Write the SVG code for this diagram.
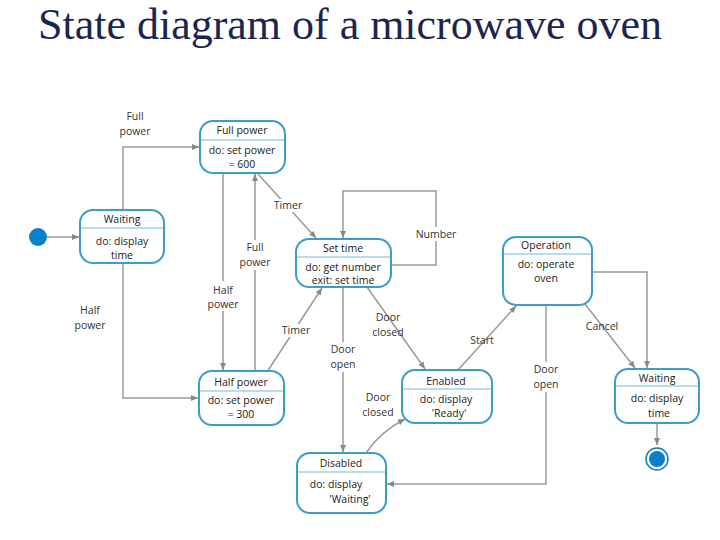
<svg xmlns="http://www.w3.org/2000/svg" width="720" height="540" viewBox="0 0 720 540">
<style>
.title{font-family:"Liberation Serif","Times New Roman",serif;font-size:43.5px;fill:#1b2550}
.box{fill:#fff;stroke:#3b9dc8;stroke-width:2}
.div{stroke:#9fd0e6;stroke-width:1.5}
.nt{font-family:"Open Sans","Noto Sans",sans-serif;font-size:10.5px;fill:#222;text-anchor:middle}
.lb{font-family:"Open Sans","Noto Sans",sans-serif;font-size:10.5px;fill:#333;text-anchor:middle}
.ln{fill:none;stroke:#9a9a9a;stroke-width:1.5}
.mask{fill:#fff}
</style>
<defs>
<marker id="ah" markerWidth="8" markerHeight="8" refX="7" refY="4" orient="auto" markerUnits="userSpaceOnUse">
<path d="M0,1 L7,4 L0,7 z" fill="#888"/>
</marker>
</defs>
<text class="title" x="38" y="39" textLength="624" lengthAdjust="spacingAndGlyphs">State diagram of a microwave oven</text>

<g id="connectors">
<line class="ln" x1="47" y1="237" x2="79" y2="237" marker-end="url(#ah)"/>
<polyline class="ln" points="123,210 123,147 199,147" marker-end="url(#ah)"/>
<polyline class="ln" points="123,263 123,398 198,398" marker-end="url(#ah)"/>
<line class="ln" x1="223" y1="174" x2="223" y2="370" marker-end="url(#ah)"/>
<line class="ln" x1="255" y1="371" x2="255" y2="174" marker-end="url(#ah)"/>
<line class="ln" x1="258" y1="174" x2="316" y2="238" marker-end="url(#ah)"/>
<line class="ln" x1="267" y1="372" x2="322" y2="288" marker-end="url(#ah)"/>
<polyline class="ln" points="391,265 436,265 436,191 343,191 343,238" marker-end="url(#ah)"/>
<line class="ln" x1="343" y1="287" x2="343" y2="452" marker-end="url(#ah)"/>
<line class="ln" x1="367" y1="287" x2="425" y2="369" marker-end="url(#ah)"/>
<path class="ln" d="M366,453 Q380,432 405,419" marker-end="url(#ah)"/>
<line class="ln" x1="458" y1="370" x2="516" y2="306" marker-end="url(#ah)"/>
<polyline class="ln" points="546,306 546,484 387,484" marker-end="url(#ah)"/>
<line class="ln" x1="585" y1="304" x2="635" y2="368" marker-end="url(#ah)"/>
<polyline class="ln" points="593,272 647,272 647,368" marker-end="url(#ah)"/>
<line class="ln" x1="657" y1="424" x2="657" y2="445" marker-end="url(#ah)"/>

<rect class="mask" x="206" y="281" width="34" height="30"/>
<text class="lb" x="223" y="294">Half</text><text class="lb" x="223" y="308">power</text>
<rect class="mask" x="238" y="240" width="34" height="30"/>
<text class="lb" x="255" y="251">Full</text><text class="lb" x="255" y="266">power</text>
<text class="lb" x="135" y="120">Full</text><text class="lb" x="135" y="135">power</text>
<text class="lb" x="90" y="314">Half</text><text class="lb" x="90" y="329">power</text>
<rect class="mask" x="272" y="199" width="32" height="13"/>
<text class="lb" x="288" y="209">Timer</text>
<rect class="mask" x="280" y="324" width="32" height="13"/>
<text class="lb" x="296" y="334">Timer</text>
<rect class="mask" x="414" y="227" width="44" height="14"/>
<text class="lb" x="436" y="238">Number</text>
<rect class="mask" x="327" y="342" width="32" height="30"/>
<text class="lb" x="343" y="353">Door</text><text class="lb" x="343" y="368">open</text>
<text class="lb" x="388" y="321">Door</text><text class="lb" x="388" y="336">closed</text>
<text class="lb" x="378" y="401">Door</text><text class="lb" x="378" y="416">closed</text>
<text class="lb" x="482" y="344">Start</text>
<rect class="mask" x="530" y="362" width="32" height="30"/>
<text class="lb" x="546" y="373">Door</text><text class="lb" x="546" y="388">open</text>
<text class="lb" x="602" y="330">Cancel</text>
</g>

<g id="initial"><circle cx="38" cy="237" r="9" fill="#0a80cc"/></g>
<g id="final"><circle cx="657" cy="459" r="11" fill="#fff" stroke="#0a80cc" stroke-width="1.5"/><circle cx="657" cy="459" r="8" fill="#0a80cc"/></g>

<g id="waiting1">
<rect class="box" x="80" y="210" width="84" height="53" rx="13"/>
<line class="div" x1="81" y1="228" x2="163" y2="228"/>
<text class="nt" x="122" y="223">Waiting</text>
<text class="nt" x="122" y="245">do: display</text>
<text class="nt" x="122" y="259">time</text>
</g>
<g id="fullpower">
<rect class="box" x="200" y="121" width="85" height="52" rx="13"/>
<line class="div" x1="201" y1="140" x2="284" y2="140"/>
<text class="nt" x="242" y="134">Full power</text>
<text class="nt" x="242" y="154">do: set power</text>
<text class="nt" x="242" y="168">= 600</text>
</g>
<g id="settime">
<rect class="box" x="296" y="239" width="95" height="48" rx="13"/>
<line class="div" x1="297" y1="257" x2="390" y2="257"/>
<text class="nt" x="343" y="252">Set time</text>
<text class="nt" x="343" y="271">do: get number</text>
<text class="nt" x="343" y="284">exit: set time</text>
</g>
<g id="operation">
<rect class="box" x="503" y="237" width="89" height="68" rx="13"/>
<line class="div" x1="504" y1="254" x2="591" y2="254"/>
<text class="nt" x="546" y="249">Operation</text>
<text class="nt" x="546" y="268">do: operate</text>
<text class="nt" x="546" y="282">oven</text>
</g>
<g id="halfpower">
<rect class="box" x="199" y="371" width="85" height="54" rx="13"/>
<line class="div" x1="200" y1="391" x2="283" y2="391"/>
<text class="nt" x="241" y="386">Half power</text>
<text class="nt" x="241" y="404">do: set power</text>
<text class="nt" x="241" y="418">= 300</text>
</g>
<g id="enabled">
<rect class="box" x="402" y="370" width="90" height="53" rx="13"/>
<line class="div" x1="403" y1="389" x2="491" y2="389"/>
<text class="nt" x="446" y="385">Enabled</text>
<text class="nt" x="446" y="403">do: display</text>
<text class="nt" x="449" y="417">'Ready'</text>
</g>
<g id="disabled">
<rect class="box" x="297" y="453" width="89" height="60" rx="13"/>
<line class="div" x1="298" y1="472" x2="385" y2="472"/>
<text class="nt" x="341" y="467">Disabled</text>
<text class="nt" x="336" y="488">do: display</text>
<text class="nt" x="350" y="503">'Waiting'</text>
</g>
<g id="waiting2">
<rect class="box" x="615" y="369" width="84" height="54" rx="13"/>
<line class="div" x1="616" y1="386" x2="698" y2="386"/>
<text class="nt" x="657" y="382">Waiting</text>
<text class="nt" x="657" y="402">do: display</text>
<text class="nt" x="659" y="417">time</text>
</g>
</svg>
